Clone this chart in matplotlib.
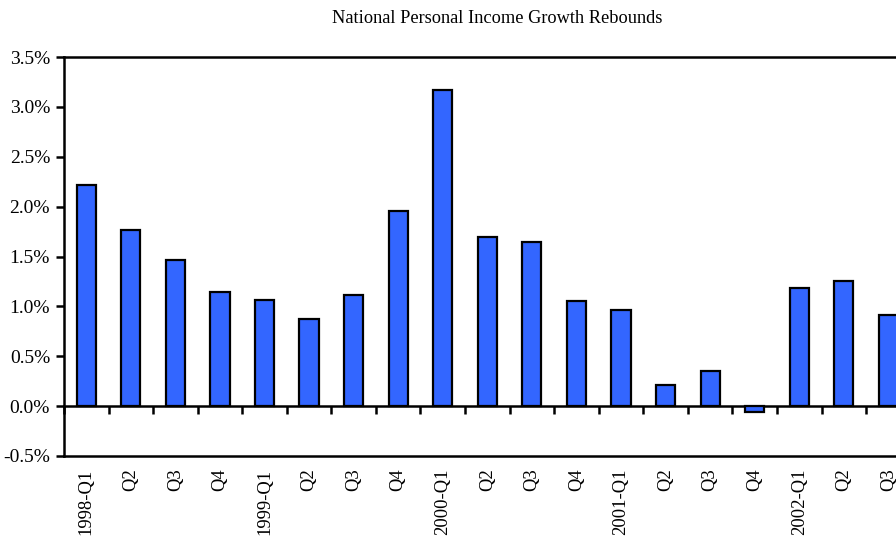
import matplotlib
matplotlib.use("Agg")
import matplotlib.pyplot as plt
import numpy as np
from matplotlib.ticker import FuncFormatter

plt.rcParams["font.family"] = ["Liberation Serif", "DejaVu Serif"]

# Quarterly growth in national personal income, percent
quarters = [
    "1998-Q1", "Q2", "Q3", "Q4",
    "1999-Q1", "Q2", "Q3", "Q4",
    "2000-Q1", "Q2", "Q3", "Q4",
    "2001-Q1", "Q2", "Q3", "Q4",
    "2002-Q1", "Q2", "Q3",
]
growth = [
    2.22, 1.77, 1.47, 1.14,
    1.06, 0.87, 1.11, 1.96,
    3.17, 1.70, 1.65, 1.05,
    0.96, 0.21, 0.35, -0.06,
    1.18, 1.25, 0.91,
]
y_ticks = [-0.5, 0.0, 0.5, 1.0, 1.5, 2.0, 2.5, 3.0, 3.5]

fig = plt.figure(figsize=(8.96, 5.39), dpi=100)
# axes run a little past the right edge of the figure
ax = fig.add_axes([0.0714, 0.154, 0.945, 0.740])

x = np.arange(len(quarters))
ax.bar(x, growth, width=0.43, color="#3366FF", edgecolor="black",
       linewidth=1.6, zorder=3)

ymin, ymax = y_ticks[0], y_ticks[-1]
ax.set_ylim(ymin, ymax)
ax.set_xlim(-0.5, len(quarters) - 0.5)
ax.set_yticks(y_ticks)
ax.yaxis.set_major_formatter(FuncFormatter(lambda v, _: f"{v:.1f}%"))
ax.tick_params(axis="y", direction="out", length=6, width=1.8,
               labelsize=14, pad=4)

ax.set_xticks(x)
ax.set_xticklabels(quarters, rotation=90, fontsize=13.4)
ax.tick_params(axis="x", length=0, pad=9)

for side in ["left", "top", "bottom", "right"]:
    ax.spines[side].set_linewidth(1.8)

# zero line carries the category boundary ticks
zero_pos = (0 - ymin) / (ymax - ymin)
zero_axis = ax.secondary_xaxis(zero_pos)
zero_axis.set_xticks(np.arange(len(quarters) + 1) - 0.5)
zero_axis.set_xticklabels([])
zero_axis.tick_params(axis="x", direction="out", length=6, width=1.8)
zero_axis.spines["bottom"].set_linewidth(1.8)

fig.text(0.555, 0.966, "National Personal Income Growth Rebounds",
         ha="center", va="center", fontsize=13.2)

fig.savefig("out.png", dpi=100)
